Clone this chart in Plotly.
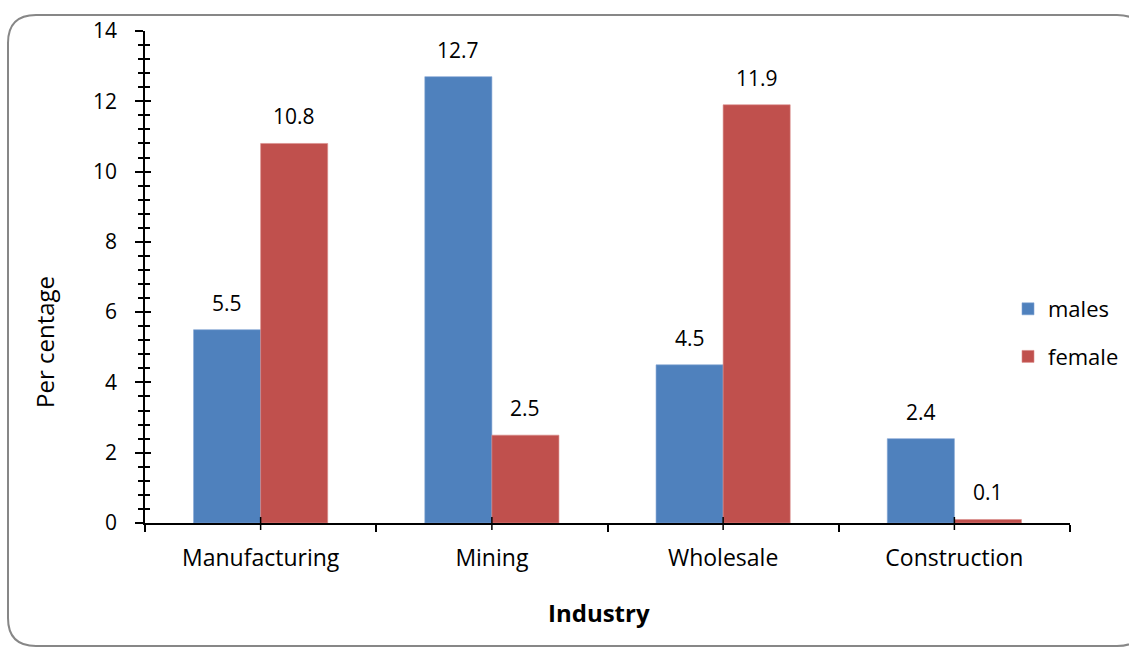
import plotly.graph_objects as go

# Share of employment by industry and sex (per cent)
industries = ["Manufacturing", "Mining", "Wholesale", "Construction"]
males = [5.5, 12.7, 4.5, 2.4]
female = [10.8, 2.5, 11.9, 0.1]

BLUE = "#4F81BD"
RED = "#C0504D"
FONT = "Open Sans"

W, H = 1129, 647
L, R, T, B = 145, 1070, 31, 523   # plot area in pixels


def px_x(p):
    return (p - L) / (R - L)


def px_y(p):
    return (B - p) / (B - T)


fig = go.Figure()
fig.add_trace(go.Bar(name="males", x=industries, y=males, marker_color=BLUE,
                     marker_line=dict(color="#7FA3D3", width=0.6), legendgroup="m"))
fig.add_trace(go.Bar(name="female", x=industries, y=female, marker_color=RED,
                     marker_line=dict(color="#DA8C8A", width=0.6), legendgroup="f"))
# companion axis used only for the inner half of the crossing y ticks
fig.add_trace(go.Scatter(x=[industries[0]], y=[None], yaxis="y2", showlegend=False,
                         hoverinfo="skip", mode="markers"))

bar_half = 33.5
annotations = []
for series, shift in ((males, -bar_half), (female, bar_half)):
    for cat, v in zip(industries, series):
        annotations.append(dict(x=cat, y=v, xref="x", yref="y", text=f"{v:g}",
                                showarrow=False, xshift=shift, yshift=11,
                                yanchor="bottom", font=dict(family=FONT, size=21, color="#000")))

# axis titles
annotations.append(dict(x=px_x(44), y=px_y(342), xref="paper", yref="paper",
                        text="Per centage", textangle=-90, showarrow=False,
                        xanchor="center", yanchor="middle",
                        font=dict(family=FONT, size=24, color="#000")))
annotations.append(dict(x=px_x(599), y=px_y(612), xref="paper", yref="paper",
                        text="<b>Industry</b>", showarrow=False,
                        xanchor="center", yanchor="middle",
                        font=dict(family=FONT, size=24, color="#000")))

# rounded frame around the chart
x0, x1 = px_x(8), px_x(1145)
y0, y1 = px_y(15), px_y(646)
rx, ry = 28 / (R - L), 28 / (B - T)
frame = (f"M {x0 + rx},{y0} L {x1 - rx},{y0} Q {x1},{y0} {x1},{y0 - ry} "
         f"L {x1},{y1 + ry} Q {x1},{y1} {x1 - rx},{y1} L {x0 + rx},{y1} "
         f"Q {x0},{y1} {x0},{y1 + ry} L {x0},{y0 - ry} Q {x0},{y0} {x0 + rx},{y0} Z")
shapes = [dict(type="path", path=frame, xref="paper", yref="paper",
               line=dict(color="#878787", width=2), fillcolor="rgba(0,0,0,0)", layer="below")]
# short crossing ticks at the category centres
for cat in industries:
    shapes.append(dict(type="line", xref="x", yref="paper", x0=cat, x1=cat,
                       y0=px_y(530), y1=px_y(517), line=dict(color="#000", width=1.5)))

fig.update_layout(
    width=W, height=H,
    margin=dict(l=L, r=W - R, t=T, b=H - B, pad=0, autoexpand=False),
    paper_bgcolor="white", plot_bgcolor="white",
    font=dict(family=FONT, size=21, color="#000"),
    barmode="group", bargap=0.42, bargroupgap=0,
    showlegend=True,
    legend=dict(x=px_x(1008), y=px_y(288), xanchor="left", yanchor="top",
                font=dict(family=FONT, size=22, color="#000"),
                bgcolor="rgba(0,0,0,0)", tracegroupgap=16, itemwidth=30),
    xaxis=dict(
        showline=True, linecolor="#000", linewidth=1.5,
        ticks="outside", ticklen=7, tickwidth=1.5, tickcolor="#000",
        tickson="boundaries", showgrid=False, zeroline=False, automargin=False,
        ticklabelstandoff=14, tickfont=dict(size=23),
    ),
    yaxis=dict(
        range=[0, 14], dtick=2, showline=True, linecolor="#000", linewidth=1.5,
        ticks="outside", ticklen=8, tickwidth=1.5, tickcolor="#000",
        minor=dict(dtick=0.4, ticks="outside", ticklen=5, tickwidth=1.5, tickcolor="#000"),
        showgrid=False, zeroline=False, automargin=False,
        ticklabelstandoff=14, tickfont=dict(size=21),
    ),
    yaxis2=dict(
        overlaying="y", side="left", range=[0, 14], dtick=2, anchor="x",
        ticks="inside", ticklen=6, tickwidth=1.5, tickcolor="#000",
        minor=dict(dtick=0.4, ticks="inside", ticklen=5, tickwidth=1.5, tickcolor="#000"),
        showticklabels=False, showgrid=False, zeroline=False, showline=False,
        automargin=False,
    ),
    annotations=annotations,
    shapes=shapes,
)

fig.write_html("out.html")
